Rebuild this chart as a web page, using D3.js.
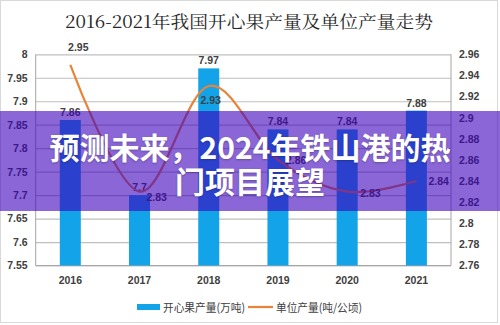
<!DOCTYPE html>
<html><head><meta charset="utf-8">
<script src="https://cdn.jsdelivr.net/npm/d3@7/dist/d3.min.js"></script>
<style>body{margin:0;background:#fff}svg{display:block}</style>
</head><body><svg id="c" width="500" height="325"></svg>
<script>
const years = ["2016","2017","2018","2019","2020","2021"];
const production = [7.86, 7.7, 7.97, 7.84, 7.84, 7.88];
const unitYield = [2.95, 2.83, 2.93, 2.86, 2.83, 2.84];
const leftTicks = [7.55, 7.6, 7.65, 7.7, 7.75, 7.8, 7.85, 7.9, 7.95, 8];
const rightTicks = [2.76, 2.78, 2.8, 2.82, 2.84, 2.86, 2.88, 2.9, 2.92, 2.94, 2.96];
const titleText = "2016-2021年我国开心果产量及单位产量走势";
const legendNames = ["开心果产量(万吨)", "单位产量(吨/公顷)"];
const bannerLines = ["预测未来，2024年铁山港的热", "门项目展望"];
// label offsets for the line's value labels [dx, dy]
const lineLabelOffsets = [[8,-14],[7,9],[2,18],[8,4],[13,5],[12,4]];

const svg = d3.select("#c");
const L = 35.7, R = 451, T = 54.3, B = 265.5;
const x = d3.scaleBand().domain(years).range([L, R]).padding(0);
const yL = d3.scaleLinear().domain([7.55, 8]).range([B, T]);
const yR = d3.scaleLinear().domain([2.76, 2.96]).range([B, T]);
const barW = 21;
const cx = d => x(d) + x.bandwidth()/2;

svg.append("rect").attr("x",0.5).attr("y",0.5).attr("width",497).attr("height",322)
  .attr("fill","#fff").attr("stroke","#d9d9d9");

svg.append("text").attr("x",249).attr("y",28).attr("text-anchor","middle")
  .attr("font-family","'Noto Serif CJK SC','Noto Sans CJK SC',serif").attr("font-size",17)
  .attr("fill","#262626").attr("textLength",368).attr("lengthAdjust","spacingAndGlyphs")
  .text(titleText);

// gridlines (left axis)
svg.append("g").attr("transform",`translate(${L},0)`)
  .call(d3.axisLeft(yL).tickValues(leftTicks).tickSize(-(R-L)).tickFormat(d3.format("")))
  .call(g => g.select(".domain").remove())
  .call(g => g.selectAll(".tick line").attr("stroke","#bfbfbf").attr("stroke-width",1.2))
  .call(g => g.selectAll(".tick text").attr("x",-8).attr("fill","#404040")
      .attr("font-family","'Liberation Sans',Arial,sans-serif").attr("font-weight","bold").attr("font-size",10.5));

svg.append("g").attr("transform",`translate(${R},0)`)
  .call(d3.axisRight(yR).tickValues(rightTicks).tickSize(0).tickFormat(d3.format("")))
  .call(g => g.select(".domain").remove())
  .call(g => g.selectAll(".tick text").attr("x",8).attr("fill","#404040")
      .attr("font-family","'Liberation Sans',Arial,sans-serif").attr("font-weight","bold").attr("font-size",10.5));

// frame lines
svg.append("line").attr("x1",L).attr("x2",L).attr("y1",T).attr("y2",B).attr("stroke","#a6a6a6");
svg.append("line").attr("x1",R).attr("x2",R).attr("y1",T).attr("y2",B).attr("stroke","#a6a6a6");
svg.append("line").attr("x1",L).attr("x2",R).attr("y1",B).attr("y2",B).attr("stroke","#a6a6a6");

// x labels
svg.append("g").attr("transform",`translate(0,${B})`)
  .call(d3.axisBottom(x).tickSize(0))
  .call(g => g.select(".domain").remove())
  .call(g => g.selectAll(".tick text").attr("y",11).attr("fill","#404040")
      .attr("font-family","'Liberation Sans',Arial,sans-serif").attr("font-weight","bold").attr("font-size",10.5));

// bars
svg.append("g").selectAll("rect").data(years).join("rect")
  .attr("x", d => cx(d) - barW/2).attr("width", barW)
  .attr("y", (d,i) => yL(production[i])).attr("height", (d,i) => B - yL(production[i]))
  .attr("fill","#12a3e8");

svg.append("g").selectAll("text").data(years).join("text")
  .attr("x", d => cx(d)).attr("y", (d,i) => yL(production[i]) - 4)
  .attr("text-anchor","middle").attr("fill","#404040")
  .attr("font-family","'Liberation Sans',Arial,sans-serif").attr("font-weight","bold").attr("font-size",10.5)
  .text((d,i) => production[i]);

// line
const line = d3.line().x((d,i) => cx(years[i])).y(d => yR(d)).curve(d3.curveCardinal.tension(0));
svg.append("path").datum(unitYield).attr("d", line).attr("fill","none")
  .attr("stroke","#e8843a").attr("stroke-width",2.2);

svg.append("g").selectAll("text").data(unitYield).join("text")
  .attr("x", (d,i) => cx(years[i]) + lineLabelOffsets[i][0])
  .attr("y", (d,i) => yR(d) + lineLabelOffsets[i][1])
  .attr("text-anchor", (d,i) => i === 0 || i === 2 ? "middle" : "start")
  .attr("fill","#404040")
  .attr("font-family","'Liberation Sans',Arial,sans-serif").attr("font-weight","bold").attr("font-size",10.5)
  .text(d => d);

// legend
const lg = svg.append("g").attr("font-family","'Noto Sans CJK SC',sans-serif").attr("font-size",11.5).attr("fill","#404040");
lg.append("rect").attr("x",137).attr("y",304).attr("width",23).attr("height",6).attr("fill","#12a3e8");
lg.append("text").attr("x",163).attr("y",311.5).attr("textLength",82).attr("lengthAdjust","spacingAndGlyphs").text(legendNames[0]);
lg.append("line").attr("x1",248).attr("x2",273).attr("y1",307).attr("y2",307).attr("stroke","#e8843a").attr("stroke-width",2.2);
lg.append("text").attr("x",276).attr("y",311.5).attr("textLength",86).attr("lengthAdjust","spacingAndGlyphs").text(legendNames[1]);

// banner overlay
svg.append("rect").attr("x",0).attr("y",111).attr("width",500).attr("height",100)
  .attr("fill","rgb(60,0,187)").attr("fill-opacity",0.6);
const bt = svg.append("g").attr("font-family","'Noto Sans CJK SC',sans-serif").attr("font-weight","bold")
  .attr("font-size",30).attr("fill","#fff").attr("text-anchor","middle");
bt.selectAll("text").data(bannerLines).join("text")
  .attr("x",250).attr("y",(d,i) => 159 + i*34)
  .style("text-shadow","0 1px 2px rgba(0,0,0,0.25)")
  .text(d => d);
</script></body></html>
